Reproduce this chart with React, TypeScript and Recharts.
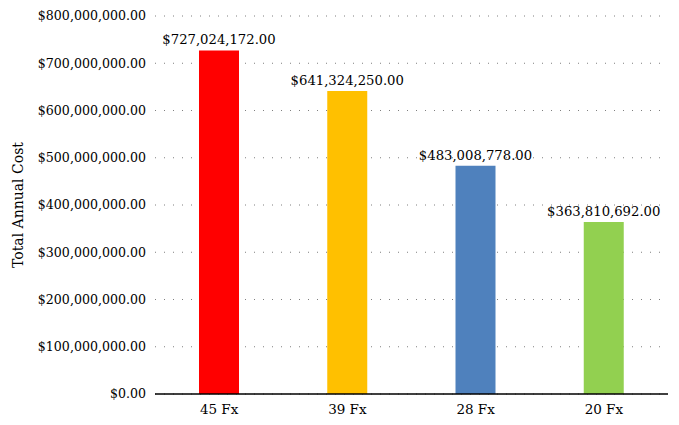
import { BarChart, Bar, XAxis, YAxis, CartesianGrid, LabelList, Cell } from "recharts";

const categories = ["45 Fx", "39 Fx", "28 Fx", "20 Fx"];
const costs = [727024172, 641324250, 483008778, 363810692];
const barColors = ["#FF0000", "#FFC000", "#4F81BD", "#92D050"];
const yTicks = [0, 100000000, 200000000, 300000000, 400000000, 500000000, 600000000, 700000000, 800000000];

const data = categories.map((name, i) => ({ name, cost: costs[i] }));

const money = (v: any) =>
  "$" +
  Number(v).toLocaleString("en-US", { minimumFractionDigits: 2, maximumFractionDigits: 2 });

// Liberation Serif doesn't resolve in the renderer, DejaVu Serif does
const font = "DejaVu Serif";

export default function App() {
  return (
    <div
      style={{
        position: "absolute",
        left: 0,
        top: 0,
        width: 679,
        height: 425,
        background: "#fff",
        fontFamily: font,
      }}
    >
      <BarChart
        width={679}
        height={425}
        data={data}
        margin={{ top: 16, right: 11, left: 30, bottom: 1 }}
        style={{ fontFamily: font }}
      >
        <CartesianGrid vertical={false} stroke="#7f7f7f" strokeDasharray="1 8" />
        <XAxis
          dataKey="name"
          tick={{ fill: "#000", fontSize: 13.5, fontFamily: font }}
          axisLine={{ stroke: "#000", strokeWidth: 1.5 }}
          tickLine={false}
          height={30}
          tickMargin={4}
        />
        <YAxis
          domain={[0, 800000000]}
          ticks={yTicks}
          interval={0}
          tickFormatter={money}
          tick={{ fill: "#000", fontSize: 12.6, fontFamily: font }}
          axisLine={false}
          tickLine={false}
          width={125}
          tickMargin={3}
          label={{
            value: "Total Annual Cost",
            angle: -90,
            position: "insideLeft",
            offset: -12,
            style: { textAnchor: "middle", fill: "#000", fontSize: 14, fontFamily: font },
          }}
        />
        <Bar dataKey="cost" barSize={40} isAnimationActive={false}>
          {data.map((d, i) => (
            <Cell key={d.name} fill={barColors[i]} />
          ))}
          <LabelList
            dataKey="cost"
            position="top"
            formatter={money}
            offset={6}
            style={{ fill: "#000", fontSize: 13.2, fontFamily: font }}
          />
        </Bar>
      </BarChart>
    </div>
  );
}
